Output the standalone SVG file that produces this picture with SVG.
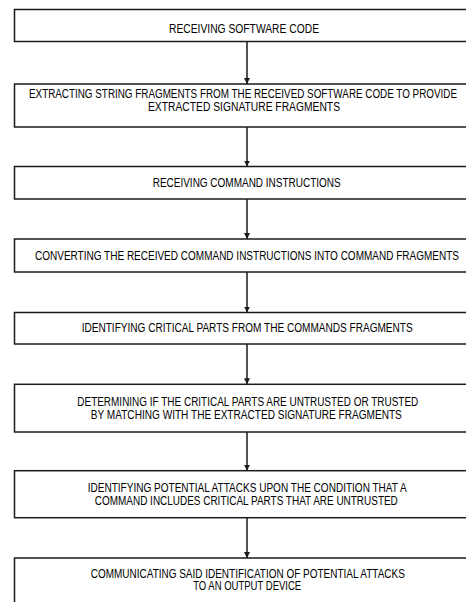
<svg xmlns="http://www.w3.org/2000/svg" width="466" height="602" viewBox="0 0 466 602">
<style>
.box{fill:#fff;stroke:#1a1a1a;stroke-width:1.5}
.lbl{font-family:"Liberation Sans",Arial,sans-serif;font-size:12.5px;fill:#000;text-anchor:middle}
.conn{stroke:#1a1a1a;stroke-width:1.5;fill:none;marker-end:url(#ah)}
</style>
<defs>
<marker id="ah" viewBox="0 0 6 8" refX="6" refY="3" markerWidth="6" markerHeight="8" markerUnits="userSpaceOnUse" orient="auto">
<path d="M0,0 L6,3 L0,6 Z" fill="#1a1a1a"/>
</marker>
</defs>
<rect width="466" height="602" fill="#fff"/>
<g id="connectors">
<line class="conn" x1="247" y1="41.5" x2="247" y2="84"/>
<line class="conn" x1="247" y1="127" x2="247" y2="166.5"/>
<line class="conn" x1="247" y1="199" x2="247" y2="239"/>
<line class="conn" x1="247" y1="272" x2="247" y2="312.5"/>
<line class="conn" x1="247" y1="344" x2="247" y2="384.3"/>
<line class="conn" x1="247" y1="432" x2="247" y2="470.7"/>
<line class="conn" x1="247" y1="517.7" x2="247" y2="558"/>
</g>
<g id="n1"><rect class="box" x="14.5" y="9.5" width="470" height="32"/>
<text class="lbl" x="244" y="33.3" textLength="150" lengthAdjust="spacingAndGlyphs">RECEIVING SOFTWARE CODE</text></g>
<g id="n2"><rect class="box" x="14.5" y="84" width="470" height="43"/>
<text class="lbl" x="243" y="98" textLength="428" lengthAdjust="spacingAndGlyphs">EXTRACTING STRING FRAGMENTS FROM THE RECEIVED SOFTWARE CODE TO PROVIDE</text>
<text class="lbl" x="244" y="111" textLength="192" lengthAdjust="spacingAndGlyphs">EXTRACTED SIGNATURE FRAGMENTS</text></g>
<g id="n3"><rect class="box" x="14.5" y="166.5" width="470" height="32.5"/>
<text class="lbl" x="246.7" y="187.3" textLength="188" lengthAdjust="spacingAndGlyphs">RECEIVING COMMAND INSTRUCTIONS</text></g>
<g id="n4"><rect class="box" x="14.5" y="239" width="470" height="33"/>
<text class="lbl" x="247" y="260" textLength="424" lengthAdjust="spacingAndGlyphs">CONVERTING THE RECEIVED COMMAND INSTRUCTIONS INTO COMMAND FRAGMENTS</text></g>
<g id="n5"><rect class="box" x="14.5" y="312.5" width="470" height="31.5"/>
<text class="lbl" x="247.2" y="332.3" textLength="331" lengthAdjust="spacingAndGlyphs">IDENTIFYING CRITICAL PARTS FROM THE COMMANDS FRAGMENTS</text></g>
<g id="n6"><rect class="box" x="14.5" y="384.3" width="470" height="47.7"/>
<text class="lbl" x="247.8" y="406" textLength="341" lengthAdjust="spacingAndGlyphs">DETERMINING IF THE CRITICAL PARTS ARE UNTRUSTED OR TRUSTED</text>
<text class="lbl" x="246.3" y="418.5" textLength="311" lengthAdjust="spacingAndGlyphs">BY MATCHING WITH THE EXTRACTED SIGNATURE FRAGMENTS</text></g>
<g id="n7"><rect class="box" x="14.5" y="470.7" width="470" height="47"/>
<text class="lbl" x="247.2" y="492.3" textLength="319" lengthAdjust="spacingAndGlyphs">IDENTIFYING POTENTIAL ATTACKS UPON THE CONDITION THAT A</text>
<text class="lbl" x="246.3" y="505" textLength="303" lengthAdjust="spacingAndGlyphs">COMMAND INCLUDES CRITICAL PARTS THAT ARE UNTRUSTED</text></g>
<g id="n8"><rect class="box" x="14.5" y="558" width="470" height="60"/>
<text class="lbl" x="247.8" y="577.7" textLength="314" lengthAdjust="spacingAndGlyphs">COMMUNICATING SAID IDENTIFICATION OF POTENTIAL ATTACKS</text>
<text class="lbl" x="247.2" y="590.2" textLength="108" lengthAdjust="spacingAndGlyphs">TO AN OUTPUT DEVICE</text></g>
</svg>
